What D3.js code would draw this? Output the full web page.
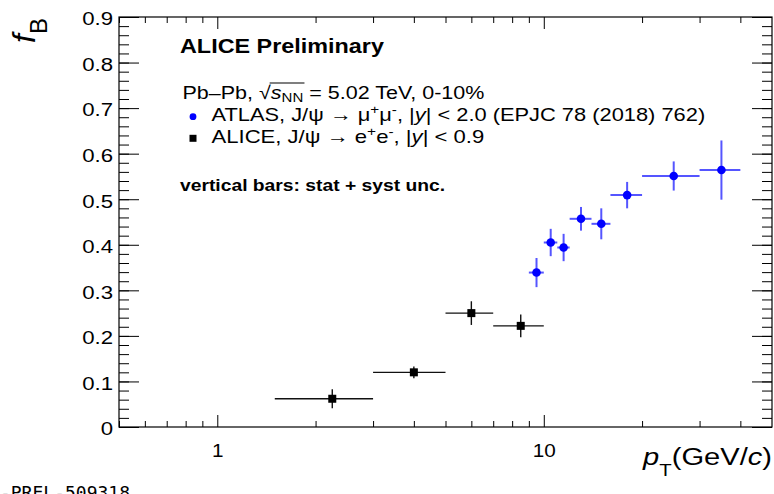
<!DOCTYPE html>
<html>
<head>
<meta charset="utf-8">
<script src="https://cdn.jsdelivr.net/npm/d3@7"></script>
<style>
  body { margin: 0; background: #fff; }
  text { font-family: "Liberation Sans", Arial, Helvetica, sans-serif; fill: #000; }
</style>
</head>
<body>
<div class="chart"></div>
<script>
// ALICE points (J/psi -> e+e-)
const aliceX = [2.25, 4.0, 6.0, 8.5];
const aliceXLo = [1.5, 3, 5, 7];
const aliceXHi = [3, 5, 7, 10];
const aliceY = [0.062, 0.120, 0.250, 0.222];
const aliceErr = [0.021, 0.013, 0.026, 0.025];

// ATLAS points (J/psi -> mu+mu-)
const atlasX = [9.5, 10.5, 11.5, 13, 15, 18, 25, 35];
const atlasXLo = [9, 10, 11, 12, 14, 16, 20, 30];
const atlasXHi = [10, 11, 12, 14, 16, 20, 30, 40];
const atlasY = [0.339, 0.405, 0.394, 0.457, 0.446, 0.509, 0.551, 0.564];
const atlasErr = [0.032, 0.030, 0.030, 0.026, 0.034, 0.029, 0.032, 0.065];

// Ticks
const xLabelTicks = [1, 10];
const xMinorTicks = [0.5, 0.6, 0.7, 0.8, 0.9, 2, 3, 4, 5, 6, 7, 8, 9, 20, 30, 40];
const yMajorTicks = [0, 0.1, 0.2, 0.3, 0.4, 0.5, 0.6, 0.7, 0.8, 0.9];
const yMinorTicks = d3.range(0, 46).map((i) => i * 0.02);

function makePoints(xs, lo, hi, ys, err) {
  return xs.map((x, i) => ({ x: x, lo: lo[i], hi: hi[i], y: ys[i], e: err[i] }));
}

const width = 774;
const height = 494;
const frame = { left: 119, right: 772, top: 17, bottom: 427 };

const svg = d3
  .select(".chart")
  .append("svg")
  .attr("width", width)
  .attr("height", height);

// Scales.
const x = d3.scaleLog().domain([0.5, 50]).range([frame.left, frame.right]);
const y = d3.scaleLinear().domain([0, 0.9]).range([frame.bottom, frame.top]);

// Axes (ticks inward, ROOT style).
function styleAxis(g) {
  g.select(".domain").remove();
  g.selectAll(".tick line").attr("stroke", "#000").attr("stroke-width", 1);
}

svg.append("g")
  .attr("transform", `translate(0,${frame.bottom})`)
  .call(d3.axisBottom(x).tickValues(xMinorTicks).tickSize(-6).tickFormat(""))
  .call(styleAxis);

const xMajor = svg.append("g")
  .attr("transform", `translate(0,${frame.bottom})`)
  .call(d3.axisBottom(x).tickValues(xLabelTicks).tickSize(-12).tickPadding(17).tickFormat(d3.format("d")))
  .call(styleAxis);
xMajor.selectAll("text")
  .style("font-size", "18.5px")
  .attr("fill", "#000")
  .attr("transform", "scale(1.12,1)");

svg.append("g")
  .attr("transform", `translate(0,${frame.top})`)
  .call(d3.axisTop(x).tickValues(xMinorTicks).tickSize(-6).tickFormat(""))
  .call(styleAxis);
svg.append("g")
  .attr("transform", `translate(0,${frame.top})`)
  .call(d3.axisTop(x).tickValues(xLabelTicks).tickSize(-12).tickFormat(""))
  .call(styleAxis);

svg.append("g")
  .attr("transform", `translate(${frame.left},0)`)
  .call(d3.axisLeft(y).tickValues(yMinorTicks).tickSize(-10).tickFormat(""))
  .call(styleAxis);

const yMajor = svg.append("g")
  .attr("transform", `translate(${frame.left},0)`)
  .call(d3.axisLeft(y).tickValues(yMajorTicks).tickSize(-20).tickPadding(6)
    .tickFormat((d) => (d === 0 ? "0" : d.toFixed(1))))
  .call(styleAxis);
yMajor.selectAll("text")
  .style("font-size", "18.5px")
  .attr("fill", "#000")
  .attr("dy", "0.42em")
  .attr("x", 0)
  .attr("transform", "translate(-6,0) scale(1.2,1)");

svg.append("g")
  .attr("transform", `translate(${frame.right},0)`)
  .call(d3.axisRight(y).tickValues(yMinorTicks).tickSize(-10).tickFormat(""))
  .call(styleAxis);
svg.append("g")
  .attr("transform", `translate(${frame.right},0)`)
  .call(d3.axisRight(y).tickValues(yMajorTicks).tickSize(-20).tickFormat(""))
  .call(styleAxis);

// Frame.
svg.append("rect")
  .attr("x", frame.left)
  .attr("y", frame.top)
  .attr("width", frame.right - frame.left)
  .attr("height", frame.bottom - frame.top)
  .attr("fill", "none")
  .attr("stroke", "#000")
  .attr("stroke-width", 1.2);

// Data.
function drawSeries(points, barColor, barWidth, markerColor, shape) {
  const g = svg.append("g");
  g.selectAll(".xerr")
    .data(points)
    .enter()
    .append("line")
    .attr("x1", (d) => x(d.lo))
    .attr("x2", (d) => x(d.hi))
    .attr("y1", (d) => y(d.y))
    .attr("y2", (d) => y(d.y))
    .attr("stroke", barColor)
    .attr("stroke-width", barWidth);
  g.selectAll(".yerr")
    .data(points)
    .enter()
    .append("line")
    .attr("x1", (d) => x(d.x))
    .attr("x2", (d) => x(d.x))
    .attr("y1", (d) => y(d.y - d.e))
    .attr("y2", (d) => y(d.y + d.e))
    .attr("stroke", barColor)
    .attr("stroke-width", barWidth);
  if (shape === "circle") {
    g.selectAll("circle")
      .data(points)
      .enter()
      .append("circle")
      .attr("cx", (d) => x(d.x))
      .attr("cy", (d) => y(d.y))
      .attr("r", 4.3)
      .attr("fill", markerColor);
  } else {
    g.selectAll("rect")
      .data(points)
      .enter()
      .append("rect")
      .attr("x", (d) => x(d.x) - 4)
      .attr("y", (d) => y(d.y) - 4)
      .attr("width", 8)
      .attr("height", 8)
      .attr("fill", markerColor);
  }
}

drawSeries(makePoints(aliceX, aliceXLo, aliceXHi, aliceY, aliceErr), "#111", 1.4, "#000", "square");
drawSeries(makePoints(atlasX, atlasXLo, atlasXHi, atlasY, atlasErr), "#5555ff", 2, "#0000ff", "circle");

// Text helper: parts are [string, options]; the text is stretched to the given width.
function richText(xPos, yPos, size, parts, anchor, target, subDrop) {
  const g = svg.append("g");
  const t = g.append("text")
    .attr("x", xPos)
    .attr("y", yPos)
    .style("font-size", size + "px")
    .attr("text-anchor", anchor || "start");
  const drop = subDrop || size * 0.2;
  let shift = 0;
  parts.forEach((p) => {
    const o = p[1] || {};
    const ts = t.append("tspan").text(p[0]);
    const goal = o.sub ? drop : o.sup ? -size * 0.38 : 0;
    if (goal !== shift) {
      ts.attr("dy", goal - shift);
      shift = goal;
    }
    if (o.sub || o.sup) ts.style("font-size", size * 0.7 + "px");
    if (o.italic) ts.style("font-style", "italic");
    if (o.bold) ts.style("font-weight", "bold");
  });
  if (target) {
    const s = target / t.node().getComputedTextLength();
    g.attr("transform", `translate(${xPos},0) scale(${s},1) translate(${-xPos},0)`);
  }
  return { g: g, t: t };
}

// Header text.
richText(180, 53, 20, [["ALICE Preliminary", { bold: true }]], "start", 204);

const energy = richText(182.5, 99, 18.5, [
  ["Pb–Pb, "],
  ["√"],
  ["s", { italic: true }],
  ["NN", { sub: true }],
  [" = 5.02 TeV, 0-10%"],
], "start", 302, 3.5);
// overbar of the square root
const en = energy.t.node();
const sIdx = "Pb–Pb, √".length;
energy.g.append("line")
  .attr("x1", en.getEndPositionOfChar(sIdx - 1).x - 1)
  .attr("x2", en.getEndPositionOfChar(sIdx + 2).x + 1)
  .attr("y1", 83)
  .attr("y2", 83)
  .attr("stroke", "#000")
  .attr("stroke-width", 1.2);

// Legend.
svg.append("circle").attr("cx", 193).attr("cy", 116.7).attr("r", 3.4).attr("fill", "#0000ff");
richText(211.5, 120.7, 18.5, [
  ["ATLAS, J/ψ  →  μ"],
  ["+", { sup: true }],
  ["μ"],
  ["-", { sup: true }],
  [", |"],
  ["y", { italic: true }],
  ["| < 2.0 (EPJC 78 (2018) 762)"],
], "start", 494);

svg.append("rect").attr("x", 189.5).attr("y", 134.8).attr("width", 7).attr("height", 7).attr("fill", "#000");
richText(211.5, 143.3, 18.5, [
  ["ALICE,  J/ψ  →  e"],
  ["+", { sup: true }],
  ["e"],
  ["-", { sup: true }],
  [", |"],
  ["y", { italic: true }],
  ["| < 0.9"],
], "start", 273);

richText(180, 191.5, 16.3, [["vertical bars: stat + syst unc.", { bold: true }]], "start", 265);

// Axis titles.
richText(772, 465, 23, [
  ["p", { italic: true }],
  ["T", { sub: true }],
  ["(GeV/"],
  ["c", { italic: true }],
  [")"],
], "end", 129, 11);

const yTitle = svg.append("text")
  .attr("transform", "translate(35,18) rotate(-90)")
  .attr("text-anchor", "end")
  .style("font-size", "32px");
yTitle.append("tspan").text("f").style("font-style", "italic");
yTitle.append("tspan").text("B").attr("dy", 12).style("font-size", "24px");

// Watermark.
svg.append("text")
  .attr("x", 130)
  .attr("y", 499)
  .attr("text-anchor", "end")
  .style("font-family", "'DejaVu Sans Mono', monospace")
  .style("font-size", "18px")
  .attr("fill", "#999")
  .text("ALI-PREL-509318");
</script>
</body>
</html>
